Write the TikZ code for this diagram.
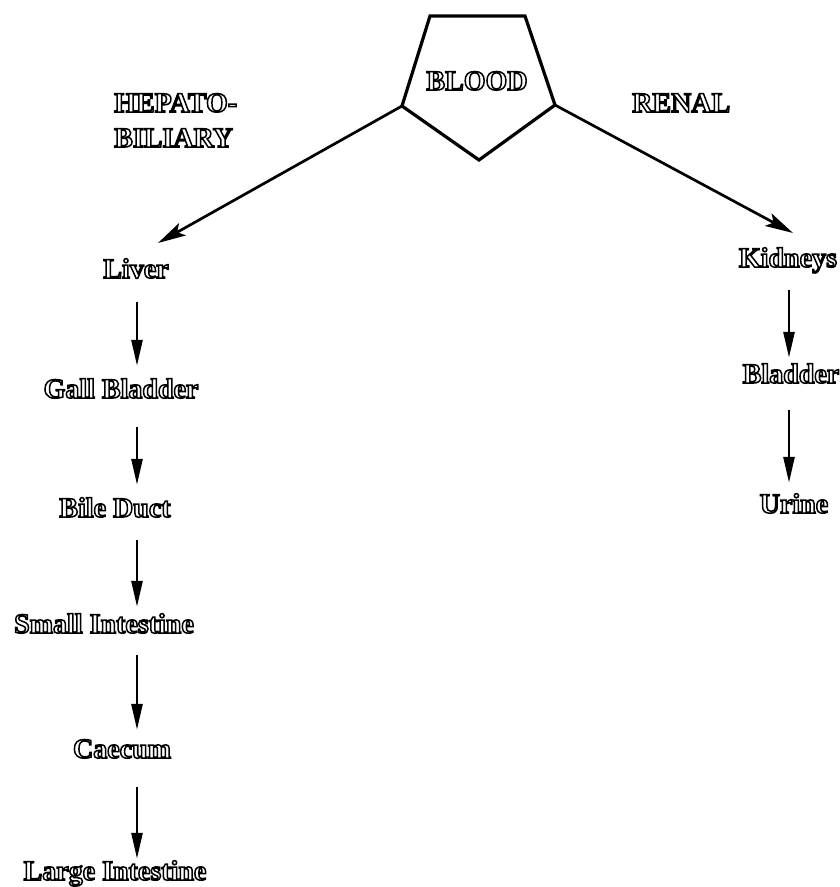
\documentclass[tikz,border=0pt]{standalone}
\usepackage{fontspec}
\setmainfont{Liberation Serif}
\usetikzlibrary{arrows.meta}

% outlined lettering: glyphs are stroked, not filled
\newcommand\olt[1]{\special{pdf:code q 1 Tr 1.5 w 0 G}#1\special{pdf:code Q}}

\tikzset{
  lbl/.style={inner sep=0pt, anchor=base, text height=19pt, text depth=6pt,
    font=\fontsize{28}{33}\selectfont\bfseries},
  hdr/.style={inner sep=0pt, anchor=base west,
    font=\fontsize{28}{33}\selectfont\bfseries},
  flow/.style={line width=2.7pt, -{Triangle[length=26pt,width=11pt]}},
  slant/.style={line width=2.7pt, -{Stealth[length=28pt,width=14pt,inset=6pt]}},
  pent/.style={line width=3.2pt, line join=miter},
}

\begin{document}
\begin{tikzpicture}[x=1pt,y=-1pt]
\useasboundingbox (0,0) rectangle (840,887);

% blood pentagon
\coordinate (p1) at (430,16);
\coordinate (p2) at (525,16);
\coordinate (p3) at (555,105);
\coordinate (p4) at (479,160);
\coordinate (p5) at (402,106);
\draw[pent] (p1) -- (p2) -- (p3) -- (p4) -- (p5) -- cycle;
\node[lbl, text height=, text depth=] (blood) at (477,90) {\olt{BLOOD}};

% route headings
\node[hdr] (hep1) at (114,112) {\olt{HEPATO-}};
\node[hdr] (hep2) at (114,147) {\olt{BILIARY}};
\node[hdr] (renal) at (632,112) {\olt{RENAL}};

% hepato-biliary chain
\node[lbl] (liver) at (136,278) {\olt{Liver}};
\node[lbl] (gall)  at (121,398) {\olt{Gall Bladder}};
\node[lbl] (bile)  at (115,517) {\olt{Bile Duct}};
\node[lbl] (small) at (104,633) {\olt{Small Intestine}};
\node[lbl] (caec)  at (122,758) {\olt{Caecum}};
\node[lbl] (large) at (115,880) {\olt{Large Intestine}};

% renal chain
\node[lbl] (kid)   at (788,267) {\olt{Kidneys}};
\node[lbl] (blad)  at (791,383) {\olt{Bladder}};
\node[lbl] (urine) at (794,513) {\olt{Urine}};

% branches leaving the pentagon
\coordinate (tipL) at (158,243);
\coordinate (tipR) at (793,233);
\draw[slant] (p5) -- (tipL);
\draw[slant] (p3) -- (tipR);

% vertical flow arrows
\coordinate (colL) at (137,0);
\coordinate (colR) at (789,0);
\draw[flow, shorten <=18pt, shorten >=13pt] (liver.south -| colL) -- (gall.north -| colL);
\draw[flow, shorten <=23pt, shorten >=13pt] (gall.south -| colL) -- (bile.north -| colL);
\draw[flow, shorten <=17pt, shorten >=7pt]  (bile.south -| colL) -- (small.north -| colL);
\draw[flow, shorten <=16pt, shorten >=9pt]  (small.south -| colL) -- (caec.north -| colL);
\draw[flow, shorten <=23pt, shorten >=2pt]  (caec.south -| colL) -- (large.north -| colL);
\draw[flow, shorten <=17pt, shorten >=6pt]  (kid.south -| colR) -- (blad.north -| colR);
\draw[flow, shorten <=21pt, shorten >=11pt] (blad.south -| colR) -- (urine.north -| colR);
\end{tikzpicture}
\end{document}
